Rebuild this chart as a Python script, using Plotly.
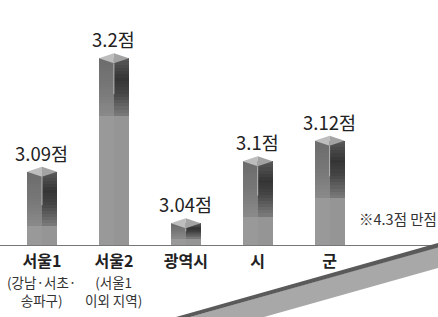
import plotly.graph_objects as go

# ---------------- data ----------------
categories = ["서울1", "서울2", "광역시", "시", "군"]
sublabels = ["(강남·서초·<br>송파구)", "(서울1<br>이외 지역)", "", "", ""]
values = [3.09, 3.2, 3.04, 3.1, 3.12]
value_labels = ["3.09점", "3.2점", "3.04점", "3.1점", "3.12점"]
note_text = "※4.3점 만점"

# ---------------- style ----------------
light_frac = [0.26, 0.69, 0.30, 0.34, 0.45]   # share of each column drawn in the flat light tone
FONT = "Noto Sans CJK KR"
W, H = 438, 317
MB = 72
PLOT_H = H - MB
Y0 = 3.014
PX_Y = 1031.0
Y1 = Y0 + PLOT_H / PX_Y
X_LO, X_HI = -0.584, 5.508
BW = 0.417
N_SEG = 18

def hex2rgb(h):
    h = h.lstrip("#")
    return [int(h[i:i + 2], 16) for i in (0, 2, 4)]

def interp(stops, t):
    for (t0, c0), (t1, c1) in zip(stops, stops[1:]):
        if t0 <= t <= t1:
            f = 0 if t1 == t0 else (t - t0) / (t1 - t0)
            a, b = hex2rgb(c0), hex2rgb(c1)
            return "rgb(%d,%d,%d)" % tuple(round(a[i] + (b[i] - a[i]) * f) for i in range(3))
    return stops[-1][1]

left_stops = [(0, "#6c6c6c"), (0.5, "#777777"), (1, "#8a8a8a")]
right_stops = [(0, "#5a5a5a"), (0.35, "#343434"), (0.6, "#454545"), (1, "#7c7c7c")]
LIGHT_L, LIGHT_R = "#999999", "#959595"

xs = list(range(len(categories)))
dy = 1.0 / PX_Y
cap_side = 5 * dy
cap_front = 10 * dy

face_top = [v - cap_side for v in values]
light_top = [Y0 + f * (ft - Y0) for f, ft in zip(light_frac, face_top)]

fig = go.Figure()

for off, stops, light in ((-BW / 4, left_stops, LIGHT_L), (BW / 4, right_stops, LIGHT_R)):
    # light lower block
    fig.add_trace(go.Bar(
        x=[x + off for x in xs], base=[Y0] * len(xs),
        y=[lt - Y0 for lt in light_top],
        width=BW / 2, marker=dict(color=light, line=dict(width=0)),
        showlegend=False, hoverinfo="skip"))
    # gradient upper block
    for k in range(N_SEG):
        t = (k + 0.5) / N_SEG
        col = interp(stops, t)
        bases, hs = [], []
        for lt, ft in zip(light_top, face_top):
            seg = (ft - lt) / N_SEG
            top = ft - k * seg
            bot = top - seg - 0.6 * dy
            bases.append(max(bot, lt))
            hs.append(top - max(bot, lt))
        fig.add_trace(go.Bar(
            x=[x + off for x in xs], base=bases, y=hs,
            width=BW / 2, marker=dict(color=col, line=dict(width=0)),
            showlegend=False, hoverinfo="skip"))

# caps (top of the columns)
for x, v in zip(xs, values):
    xl, xc, xr = x - BW / 2, x, x + BW / 2
    fig.add_trace(go.Scatter(
        x=[xl, xc, xc, xl], y=[v - cap_side, v, v - cap_front, v - cap_side],
        fill="toself", fillcolor="#bdbdbd", mode="lines", line=dict(width=0, color="#bdbdbd"),
        showlegend=False, hoverinfo="skip"))
    fig.add_trace(go.Scatter(
        x=[xc, xr, xc, xc], y=[v, v - cap_side, v - cap_front, v],
        fill="toself", fillcolor="#a3a3a3", mode="lines", line=dict(width=0, color="#a3a3a3"),
        showlegend=False, hoverinfo="skip"))

# front edge highlight
ex, ey = [], []
for x, v, lt in zip(xs, values, light_top):
    ex += [x, x, None]
    ey += [v - cap_front, lt + 0.35 * (v - lt), None]
fig.add_trace(go.Scatter(x=ex, y=ey, mode="lines", line=dict(color="#b4b4b4", width=1),
                         showlegend=False, hoverinfo="skip"))

# value labels
for x, v, lab in zip(xs, values, value_labels):
    fig.add_annotation(x=x, y=v, xref="x", yref="y", text=lab, showarrow=False,
                       yanchor="middle", yshift=14,
                       font=dict(family=FONT, size=18.5, color="#222222"))

def py(p):
    return (PLOT_H - p) / PLOT_H

def px(p):
    return p / W

# sub labels
for x, s in zip(xs, sublabels):
    if s:
        fig.add_annotation(x=x, y=py(271), xref="x", yref="paper", text=s, showarrow=False,
                           yanchor="top", borderpad=0,
                           font=dict(family=FONT, size=13.5, color="#333333"))

# note
fig.add_annotation(x=1, y=py(218), xref="paper", yref="paper", text=note_text, showarrow=False,
                   xanchor="right", yanchor="middle", borderpad=0,
                   font=dict(family=FONT, size=14.5, color="#333333"))

# decorative wedge at bottom right
def path(pts):
    return "M " + " L ".join("%f,%f" % (px(a), py(b)) for a, b in pts) + " Z"

fig.add_shape(type="path", xref="paper", yref="paper", layer="above",
              path=path([(190, 317), (438, 247), (438, 268), (264, 317)]),
              fillcolor="#a8a8a8", line=dict(width=0))
fig.add_shape(type="path", xref="paper", yref="paper", layer="above",
              path=path([(176, 317), (438, 243), (438, 247.5), (190, 317)]),
              fillcolor="#5a5a5a", line=dict(width=0))

fig.update_layout(
    width=W, height=H,
    margin=dict(l=0, r=0, t=0, b=MB, pad=0),
    barmode="overlay", bargap=0,
    paper_bgcolor="white", plot_bgcolor="white",
    font=dict(family=FONT),
    xaxis=dict(range=[X_LO, X_HI], tickvals=xs, ticktext=categories,
               tickfont=dict(family=FONT, size=16, color="#222222", weight="bold"),
               ticklabelstandoff=2,
               showline=True, linecolor="#777777", linewidth=1, ticks="",
               showgrid=False, zeroline=False, fixedrange=True),
    yaxis=dict(range=[Y0, Y1], visible=False, fixedrange=True),
)

fig.write_html("out.html")
